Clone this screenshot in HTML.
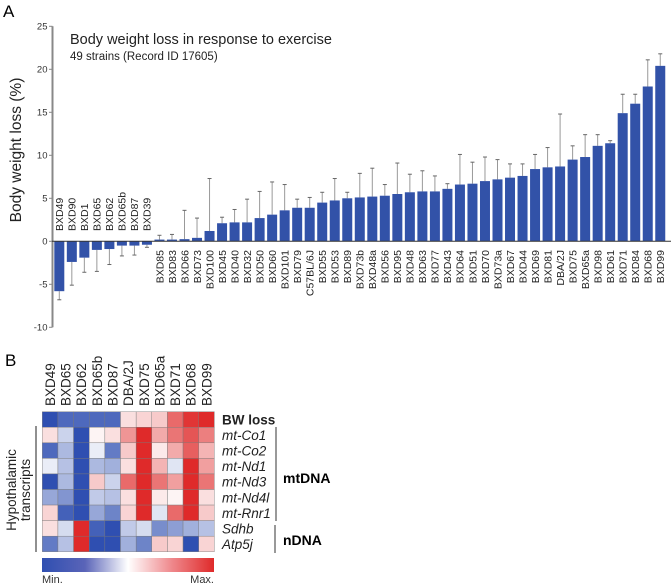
<!DOCTYPE html>
<html><head><meta charset="utf-8"><style>
html,body{margin:0;padding:0;background:#fff;}
svg{display:block;font-family:"Liberation Sans",sans-serif;}
</style></head><body>
<svg id="fig" width="671" height="585" viewBox="0 0 671 585">
<defs>
<linearGradient id="cb" x1="0" x2="1" y1="0" y2="0">
<stop offset="0" stop-color="#2f4fb1"/><stop offset="0.25" stop-color="#5a64b8"/><stop offset="0.5" stop-color="#ffffff"/><stop offset="0.75" stop-color="#ef8a8e"/><stop offset="1" stop-color="#df2a2a"/>
</linearGradient>
</defs>
<text x="3" y="17" font-size="17">A</text>
<text x="70" y="44" font-size="14.5" fill="#222">Body weight loss in response to exercise</text>
<text x="70" y="60" font-size="11.5" fill="#222">49 strains (Record ID 17605)</text>
<text transform="translate(21,150) rotate(-90)" text-anchor="middle" font-size="15.5" fill="#222">Body weight loss (%)</text>
<g id="axisA"></g>
<g id="bars"></g>
<text x="5" y="366" font-size="17">B</text>
<g id="heat"></g>
<rect x="42" y="558" width="172" height="14" fill="url(#cb)"/>
<text x="42" y="583" font-size="11" fill="#333">Min.</text>
<text x="214" y="583" font-size="11" fill="#333" text-anchor="end">Max.</text>
<line x1="36" y1="426" x2="36" y2="552" stroke="#222" stroke-width="1"/>
<text transform="translate(16,490) rotate(-90)" text-anchor="middle" font-size="13.5" fill="#222">Hypothalamic</text>
<text transform="translate(30,490) rotate(-90)" text-anchor="middle" font-size="13.5" fill="#222">transcripts</text>
<line x1="276" y1="427" x2="276" y2="521" stroke="#333" stroke-width="1"/>
<text x="283" y="483" font-size="14" font-weight="bold">mtDNA</text>
<line x1="275" y1="525" x2="275" y2="553" stroke="#333" stroke-width="1"/>
<text x="283" y="545" font-size="14" font-weight="bold">nDNA</text>
</svg>
<script>
const strains=["BXD49","BXD90","BXD1","BXD65","BXD62","BXD65b","BXD87","BXD39","BXD85","BXD83","BXD66","BXD73","BXD100","BXD45","BXD40","BXD32","BXD50","BXD60","BXD101","BXD79","C57BL/6J","BXD55","BXD53","BXD89","BXD73b","BXD48a","BXD56","BXD95","BXD48","BXD63","BXD77","BXD43","BXD64","BXD51","BXD70","BXD73a","BXD67","BXD44","BXD69","BXD81","DBA/2J","BXD75","BXD65a","BXD98","BXD61","BXD71","BXD84","BXD68","BXD99"];
const values=[-5.8,-2.4,-1.9,-1.0,-0.9,-0.5,-0.5,-0.4,0.2,0.2,0.25,0.4,1.2,2.1,2.2,2.2,2.7,3.1,3.6,3.9,3.9,4.5,4.75,5.0,5.1,5.2,5.3,5.5,5.7,5.8,5.8,6.1,6.6,6.7,7.0,7.2,7.4,7.6,8.4,8.6,8.7,9.5,9.8,11.1,11.4,14.9,16.0,18.0,20.4];
const errEnds=[-6.8,-5.1,-3.6,-3.5,-2.7,-1.7,-1.6,-0.7,0.7,0.8,3.6,2.7,7.3,2.8,3.7,4.9,5.8,6.9,6.6,4.9,5.1,5.7,7.3,5.7,7.9,8.5,6.6,9.1,7.8,8.2,7.6,6.7,10.1,9.2,9.8,9.5,9.0,9.0,10.1,10.9,14.8,11.1,12.4,12.4,11.7,17.1,17.1,21.1,21.8];
const yTicks=[25,20,15,10,5,0,-5,-10];
const heatCols=["BXD49","BXD65","BXD62","BXD65b","BXD87","DBA/2J","BXD75","BXD65a","BXD71","BXD68","BXD99"];
const heatRows=["BW loss","mt-Co1","mt-Co2","mt-Nd1","mt-Nd3","mt-Nd4l","mt-Rnr1","Sdhb","Atp5j"];
const heatVals=[
[-1,-0.85,-0.85,-0.85,-0.85,0.15,0.2,0.25,0.7,0.95,1],
[0.15,-0.25,-1,0.05,0.15,0.5,1,0.4,0.65,0.8,0.6],
[-0.85,-0.4,-1,-0.1,-0.75,0.25,1,0.1,0.4,0.75,0.35],
[-0.1,-0.35,-1,-0.4,-0.45,0.15,1,0.35,-0.15,1,0.45],
[-1,-0.4,-1,0.25,-0.25,0.7,1,0.65,0.45,1,0.65],
[-0.5,-0.6,-1,-0.3,-0.35,0.15,1,0.1,0.05,1,0.15],
[0.2,-0.9,-1,-0.5,-0.7,0.2,1,-0.15,0.7,1,0.25],
[0.15,-0.2,1,-0.9,-1,-0.3,-0.2,-0.65,-0.55,-0.45,-0.35],
[-0.75,-0.35,1,-1,-1,-0.45,-0.7,0.25,0.2,-1,0.2]];

const NS="http://www.w3.org/2000/svg";
function mk(tag,attrs,parent){const e=document.createElementNS(NS,tag);for(const k in attrs)e.setAttribute(k,attrs[k]);parent.appendChild(e);return e;}
const y=v=>241.3-v*8.6;
const x0=59.3,pitch=12.52,bw=10;
const xc=i=>x0+i*pitch;

const ax=document.getElementById('axisA');
const axl=mk('line',{x1:52.5,y1:y(25),x2:52.5,y2:y(-10),stroke:'#888','stroke-width':2},ax);


yTicks.forEach(t=>{
  const tk=mk('line',{x1:49,x2:52.5,y1:y(t),y2:y(t),stroke:'#888','stroke-width':1},ax);
  
  
  const tl=mk('text',{x:47.5,y:y(t)+3.3,'text-anchor':'end','font-size':9.5,fill:'#333'},ax);
  tl.textContent=t;
  
  
});

const bg=document.getElementById('bars');
values.forEach((v,i)=>{
  const cx=xc(i);
  const ev=errEnds[i];
  const el=mk('line',{x1:cx,x2:cx,y1:y(v),y2:y(ev),stroke:'#999','stroke-width':1},bg);
  
  
  const cap=mk('line',{x1:cx-2,x2:cx+2,y1:y(ev),y2:y(ev),stroke:'#666','stroke-width':1},bg);
  
  
  const top=Math.min(y(v),y(0)),h=Math.abs(y(v)-y(0));
  const r=mk('rect',{x:cx-bw/2,y:top,width:bw,height:Math.max(h,0.8),fill:'#3252a8'},bg);
  
  
  const t=mk('text',{'font-size':10.5,fill:'#222'},bg);
  if(v<0){t.setAttribute('transform',`translate(${cx+3.8},${231}) rotate(-90)`);}
  else{t.setAttribute('transform',`translate(${cx+3.8},${250}) rotate(-90)`);t.setAttribute('text-anchor','end');}
  t.textContent=strains[i];
  
  
});
const zl=mk('line',{x1:52,x2:671,y1:y(0),y2:y(0),stroke:'#333','stroke-width':1},bg);



function color(v){
  const B=[47,79,177],W=[255,255,255],R=[223,42,42];
  const a=Math.abs(v),c=v<0?B:R;
  const m=W.map((w,k)=>Math.round(w+(c[k]-w)*Math.min(1,a)));
  return `rgb(${m[0]},${m[1]},${m[2]})`;
}
const hg=document.getElementById('heat');
const hx0=42.3,cw=15.64,hy0=411.7,rh=15.56;
heatCols.forEach((c,j)=>{
  const t=mk('text',{transform:`translate(${hx0+j*cw+cw/2+4.8},406) rotate(-90)`,'font-size':13.5,fill:'#222'},hg);
  t.textContent=c;
  
  
});
heatVals.forEach((row,i)=>{
  row.forEach((v,j)=>{
    const r=mk('rect',{x:hx0+j*cw,y:hy0+i*rh,width:cw,height:rh,fill:color(v),stroke:'#777','stroke-width':0.4},hg);
    
    
  });
  const t=mk('text',{x:222,y:hy0+i*rh+rh/2+5,'font-size':13.5,fill:'#222'},hg);
  if(i===0){t.setAttribute('font-weight','bold');}else{t.setAttribute('font-style','italic');}
  t.textContent=heatRows[i];
  
  
});
</script>
</body></html>
